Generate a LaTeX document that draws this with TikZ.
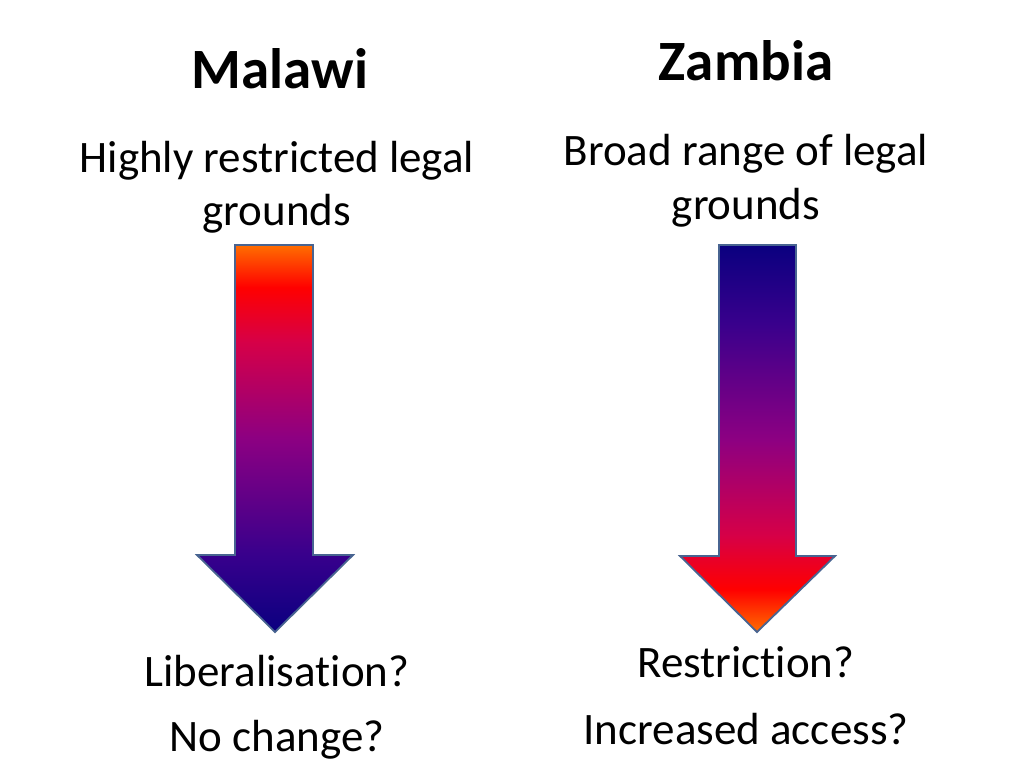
\documentclass[tikz,border=0pt]{standalone}
\usepackage{fontspec}
\setmainfont[Ligatures=NoCommon]{Carlito}
\pgfdeclareverticalshading{warmtocool}{100bp}{%
  rgb(0bp)=(0.04,0,0.50);
  rgb(25bp)=(0.04,0,0.50);
  rgb(35bp)=(0.22,0,0.55);
  rgb(50bp)=(0.55,0,0.51);
  rgb(62.5bp)=(0.84,0,0.28);
  rgb(69.5bp)=(1,0,0);
  rgb(75bp)=(1,0.43,0);
  rgb(100bp)=(1,0.43,0)}
\pgfdeclareverticalshading{cooltowarm}{100bp}{%
  rgb(0bp)=(1,0.43,0);
  rgb(25bp)=(1,0.43,0);
  rgb(30.5bp)=(1,0,0);
  rgb(37.5bp)=(0.84,0,0.28);
  rgb(50bp)=(0.55,0,0.51);
  rgb(65bp)=(0.22,0,0.55);
  rgb(75bp)=(0.04,0,0.50);
  rgb(100bp)=(0.04,0,0.50)}
\definecolor{arrowedge}{RGB}{72,100,145}
\tikzset{
  title/.style={font=\fontsize{57}{66}\selectfont\bfseries, anchor=base},
  body/.style={font=\fontsize{45}{52}\selectfont, anchor=base},
  bigarrow/.style={draw=arrowedge, line width=1.8pt, line join=miter}
}
\begin{document}
\begin{tikzpicture}[x=1pt,y=-1pt]
\useasboundingbox (0,0) rectangle (1024,768);
% Malawi
\node[title] (malawi) at (280,88) {Malawi};
\node[body] (m1) at (277,172) {Highly restricted legal};
\node[body] (m2) at (277,225) {grounds};
\path[bigarrow, shading=warmtocool]
  (235,245) -- (313,245) -- (313,555) -- (353,555) -- (275,632) -- (197,555) -- (235,555) -- cycle;
\node[body] (m3) at (277,686) {Liberalisation?};
\node[body] (m4) at (277,751) {No change?};
% Zambia
\node[title] (zambia) at (746,80) {Zambia};
\node[body] (z1) at (746,165) {Broad range of legal};
\node[body] (z2) at (746,219) {grounds};
\path[bigarrow, shading=cooltowarm]
  (719,245) -- (796,245) -- (796,556) -- (835,556) -- (757,632) -- (680,556) -- (719,556) -- cycle;
\node[body] (z3) at (746,677) {Restriction?};
\node[body] (z4) at (746,744) {Increased access?};
\end{tikzpicture}
\end{document}
